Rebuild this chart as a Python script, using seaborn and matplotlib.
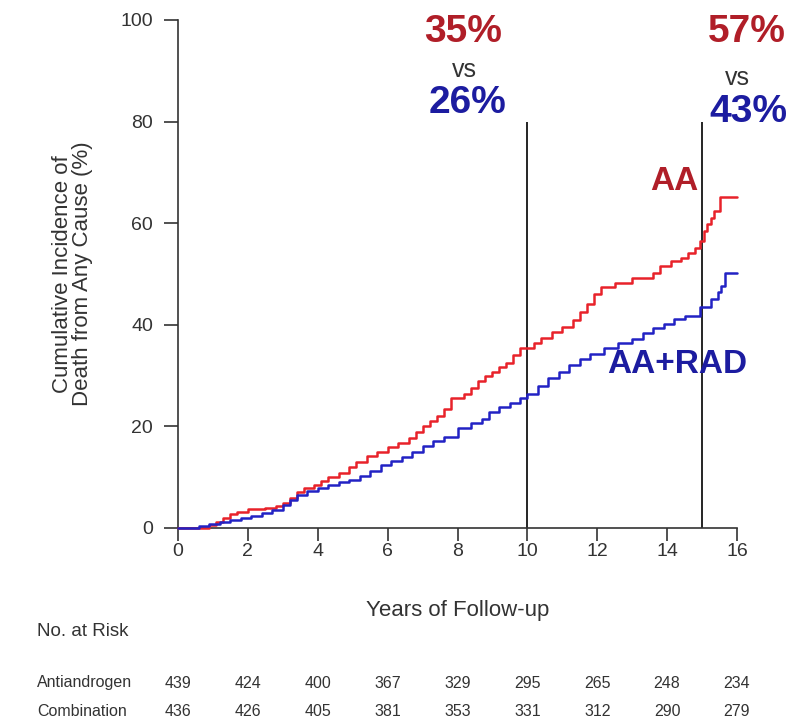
import numpy as np
import pandas as pd
import seaborn as sns
import matplotlib
matplotlib.use("Agg")
import matplotlib.pyplot as plt
from matplotlib import transforms, font_manager

# Cumulative incidence step points (years, %)
aa_years = [0, 0.9, 1.1, 1.3, 1.5, 1.7, 2.0, 2.5, 2.8, 3.0, 3.2, 3.4, 3.6, 3.9, 4.1,
            4.3, 4.6, 4.9, 5.1, 5.4, 5.7, 6.0, 6.3, 6.6, 6.8, 7.0, 7.2, 7.4, 7.6, 7.8,
            8.2, 8.4, 8.6, 8.8, 9.0, 9.2, 9.4, 9.6, 9.8, 10.2, 10.4, 10.7, 11.0, 11.3,
            11.5, 11.7, 11.9, 12.1, 12.5, 13.0, 13.6, 13.8, 14.1, 14.4, 14.6, 14.8,
            14.95, 15.05, 15.15, 15.25, 15.35, 15.5, 16.0]
aa_pct = [0, 0.5, 1.2, 2.0, 2.7, 3.2, 3.7, 4.0, 4.4, 5.0, 6.0, 7.0, 7.9, 8.5, 9.3,
          10.0, 10.8, 12.0, 12.9, 14.2, 15.0, 16.0, 16.8, 17.8, 18.8, 20.0, 21.0, 22.0,
          23.5, 25.5, 26.3, 27.5, 29.0, 30.0, 30.8, 31.6, 32.4, 34.0, 35.4, 36.4, 37.5,
          38.5, 39.6, 41.0, 42.5, 44.0, 46.0, 47.5, 48.2, 49.2, 50.2, 51.6, 52.5, 53.2,
          54.2, 55.2, 56.5, 58.5, 59.8, 61.0, 62.5, 65.2, 65.2]

rad_years = [0, 0.6, 0.9, 1.2, 1.5, 1.8, 2.1, 2.4, 2.7, 3.0, 3.2, 3.4, 3.7, 4.0, 4.3,
             4.6, 4.9, 5.2, 5.5, 5.8, 6.1, 6.4, 6.7, 7.0, 7.3, 7.6, 8.0, 8.4, 8.7, 8.9,
             9.2, 9.5, 9.8, 10.0, 10.3, 10.6, 10.9, 11.2, 11.5, 11.8, 12.2, 12.6, 13.0,
             13.3, 13.6, 13.9, 14.2, 14.5, 14.95, 15.25, 15.45, 15.55, 15.65, 16.0]
rad_pct = [0, 0.4, 0.8, 1.2, 1.6, 2.0, 2.4, 2.9, 3.5, 4.6, 5.5, 6.4, 7.2, 7.9, 8.4,
           9.0, 9.5, 10.3, 11.2, 12.4, 13.2, 14.0, 15.0, 16.2, 17.2, 18.0, 19.6, 20.6,
           21.5, 22.8, 23.8, 24.6, 25.5, 26.3, 28.0, 29.5, 30.8, 32.0, 33.2, 34.2, 35.5,
           36.5, 37.2, 38.4, 39.4, 40.2, 41.2, 41.8, 43.6, 45.0, 46.4, 47.6, 50.2, 50.2]

# Landmark estimates
landmark_years = [10, 15]
aa_landmark = ["35%", "57%"]
rad_landmark = ["26%", "43%"]

# Number at risk table
risk_years = [0, 2, 4, 6, 8, 10, 12, 14, 16]
risk_rows = ["Antiandrogen", "Combination"]
risk_antiandrogen = [439, 424, 400, 367, 329, 295, 265, 248, 234]
risk_combination = [436, 426, 405, 381, 353, 331, 312, 290, 279]

sns.set_theme(style="ticks")
plt.rcParams["font.family"] = ["Liberation Sans", "DejaVu Sans"]

narrow = "Liberation Sans Narrow"
if not any(f.name == narrow for f in font_manager.fontManager.ttflist):
    narrow = "Liberation Sans"

RED, BLUE = "#e8222a", "#2222c4"
DARK_RED, DARK_BLUE = "#b01e28", "#1c1ca0"
INK = "#333333"

df = pd.concat([
    pd.DataFrame({"years": aa_years, "pct": aa_pct, "arm": "AA"}),
    pd.DataFrame({"years": rad_years, "pct": rad_pct, "arm": "AA+RAD"}),
])

fig = plt.figure(figsize=(8.06, 7.19), dpi=100)
ax = fig.add_axes([178 / 806, 1 - 528 / 719, 559 / 806, 508 / 719])

sns.lineplot(data=df, x="years", y="pct", hue="arm", palette=[RED, BLUE],
             estimator=None, drawstyle="steps-post", linewidth=1.8,
             legend=False, ax=ax, zorder=3)
for line in ax.lines:
    line.set_clip_on(False)

for yr in landmark_years:
    ax.vlines(yr, 0, 80, color="black", linewidth=1.2, zorder=2)

ax.set_xlim(0, 16)
ax.set_ylim(0, 100)
ax.set_xticks(risk_years)
ax.set_yticks([0, 20, 40, 60, 80, 100])
for s in ["top", "right"]:
    ax.spines[s].set_visible(False)
for s in ["left", "bottom"]:
    ax.spines[s].set_color(INK)
    ax.spines[s].set_linewidth(1.2)
    ax.spines[s].set_zorder(2.5)
ax.tick_params(axis="y", length=10, width=1.2, color=INK, pad=8,
               labelsize=14, labelcolor=INK)
ax.tick_params(axis="x", length=9, width=1.2, color=INK, pad=2,
               labelsize=14, labelcolor=INK)

ax.set_xlabel("Years of Follow-up", fontsize=16, color=INK)
ax.xaxis.set_label_coords(0.5, -0.142)
ax.set_ylabel("Cumulative Incidence of\nDeath from Any Cause (%)",
              fontsize=16, color=INK, linespacing=0.92)
ax.yaxis.set_label_coords(-0.152, 0.5)

# Landmark percentages
ann = [(8.17, 97.6, aa_landmark[0], DARK_RED, 28, "bold"),
       (8.2, 90.2, "vs", INK, 18, "normal"),
       (8.3, 83.7, rad_landmark[0], DARK_BLUE, 28, "bold"),
       (16.27, 97.6, aa_landmark[1], DARK_RED, 28, "bold"),
       (16.02, 88.6, "vs", INK, 18, "normal"),
       (16.33, 81.9, rad_landmark[1], DARK_BLUE, 28, "bold")]
for x, y, s, c, fs, fw in ann:
    ax.text(x, y, s, color=c, fontsize=fs, fontweight=fw,
            ha="center", va="center", clip_on=False)

ax.text(14.2, 68.3, "AA", color=DARK_RED, fontsize=24, fontweight="bold",
        ha="center", va="center")
ax.text(14.3, 32.1, "AA+RAD", color=DARK_BLUE, fontsize=24, fontweight="bold",
        ha="center", va="center", clip_on=False)

# Number at risk
fig.text(37 / 806, 1 - 632 / 719, "No. at Risk", fontsize=13.5, color=INK,
         ha="left", va="center")
trans = transforms.blended_transform_factory(ax.transData, fig.transFigure)
for name, counts, py in [(risk_rows[0], risk_antiandrogen, 683),
                         (risk_rows[1], risk_combination, 711)]:
    yf = 1 - py / 719
    fig.text(37 / 806, yf, name, fontsize=11.5, family=narrow, color=INK,
             ha="left", va="center")
    for yr, n in zip(risk_years, counts):
        ax.text(yr, yf, str(n), transform=trans, fontsize=11.5, family=narrow,
                color=INK, ha="center", va="center", clip_on=False)

fig.savefig("out.png", dpi=100, facecolor="white")
